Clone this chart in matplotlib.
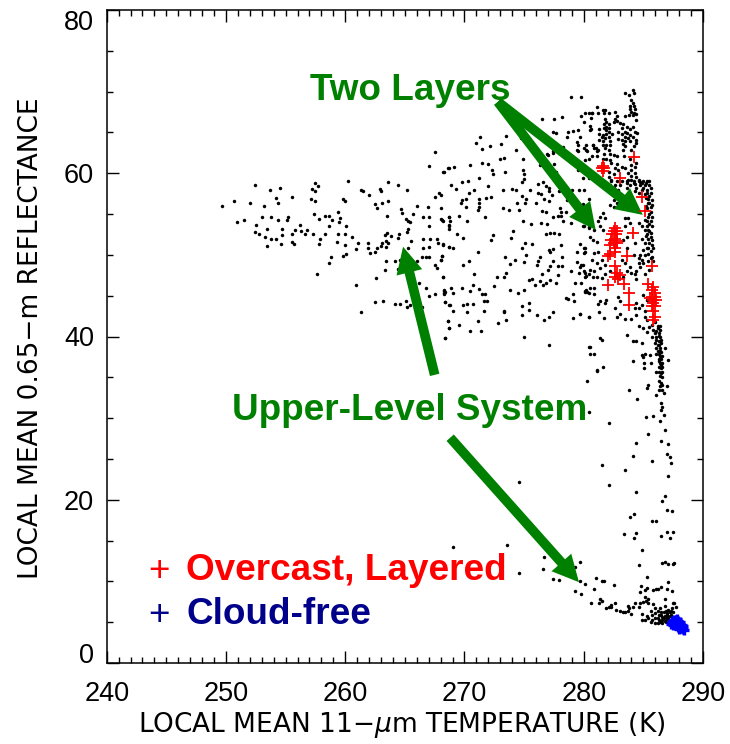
import matplotlib
matplotlib.use("Agg")
import matplotlib.pyplot as plt

# (temperature K, reflectance %)
dots_left = [(249.7,56.0),(250.7,56.6),(252.0,56.3),(252.4,58.5),(253.7,58.0),(254.5,58.2),(253.2,56.0),(254.2,57.0),(254.4,56.4),(255.5,57.1),
(250.9,54.0),(251.5,54.3),(253.0,54.7),(253.8,54.6),(254.4,54.3),(255.2,54.6),(255.1,54.3),(252.5,53.6),(253.4,53.2),(254.7,53.2),
(252.4,52.8),(252.8,52.6),(253.3,52.2),(253.8,52.0),(254.2,52.0),(254.7,52.4),(253.4,51.1),(254.6,51.3),(255.5,51.6),(255.7,51.3),
(255.5,52.6),(255.8,53.0),(256.2,53.6),(256.3,52.9),(256.6,52.5),(256.8,53.0),(257.3,52.5),(257.4,55.0),(257.8,54.4),(258.3,54.8),
(258.6,54.8),(258.9,54.3),(258.6,53.5),(258.3,52.6),(257.9,51.9),(257.8,51.3),(257.2,58.1),(257.5,58.8),(257.7,58.4),(257.5,57.8),
(257.1,56.9),(257.5,56.6),(257.6,47.6),(260.2,59.0),(259.8,56.8),(260.0,56.6),(259.4,55.3),(259.6,54.5),(259.5,54.0),(260.1,53.5),
(259.4,52.6),(260.0,52.6),(259.3,51.6),(260.0,51.2),(260.6,52.2),(261.1,51.4),(260.9,50.7),(260.1,50.1),(259.8,49.9),(258.8,49.7),
(258.6,49.0),(260.9,46.3),(261.3,43.0),(262.5,44.2),(263.2,44.4),(264.2,44.0),(264.6,44.0),(265.1,44.3),(265.2,43.6),(265.4,43.8),
(266.4,43.6),(261.3,57.9),(261.5,57.8),(262.0,57.3),(262.9,58.1),(263.0,57.8),(263.6,58.9),(264.4,58.6),(265.2,57.9),(262.5,56.2),
(262.7,55.8),(263.1,56.4),(263.6,56.6),(263.5,54.8),(264.7,55.6),(264.8,55.1),(265.1,54.4),(265.3,54.2),(265.4,54.0),(265.3,53.2),
(265.2,52.8),(265.7,55.0),(266.0,56.0),(266.9,55.9),(266.5,54.7),(267.0,54.7),(267.0,53.5),(267.5,57.1),(267.9,57.6),(268.0,57.3),
(268.0,55.7),(268.0,54.4),(268.2,54.1),(267.5,62.6),(267.0,60.9),(268.2,60.2),(268.7,60.6),(268.7,54.6),(268.7,53.5),(261.9,51.5),
(261.9,50.9),(262.1,50.2),(262.5,50.3),(262.7,50.9),(263.0,51.1),(263.1,51.5),(263.4,51.7),(263.4,51.0),(263.6,51.4),(263.3,52.4),
(263.5,52.7),(263.8,52.3),(264.5,52.5),(264.4,52.1),(265.5,51.7),(265.3,50.9),(266.5,51.9),(267.1,51.9),(267.7,51.9),(267.8,51.4),
(268.2,51.2),(268.7,51.0),(266.5,50.9),(267.0,51.0),(263.4,49.3),(264.2,49.2),(264.6,49.4),(263.3,48.1),(262.6,47.2),(264.4,48.3),
(266.0,49.2),(266.4,49.7),(266.8,49.7),(267.0,49.8),(268.1,49.9),(268.0,49.4),(267.5,48.7),(267.7,48.4),(268.2,47.3),(266.2,46.6),
(266.8,46.0),(267.0,45.0),(267.5,45.2),(268.3,45.6),(268.4,45.4),(268.3,45.2),(268.4,44.2),(268.7,43.9),(268.6,41.9),(268.7,41.0),(268.4,39.8)]

dots_middle = [(271.3,64.4),(273.5,64.6),(271.0,63.7),(271.5,63.0),(272.1,63.3),(273.1,63.6),(274.3,62.8),(274.7,64.3),(274.9,61.8),(273.0,61.8),
(273.3,61.9),(271.5,61.2),(272.0,61.1),(270.5,61.0),(269.1,60.8),(268.6,60.6),(268.3,60.2),(272.3,60.4),(272.4,59.9),(273.4,60.2),
(274.9,60.4),(275.0,59.9),(275.0,59.3),(274.8,58.9),(271.2,59.4),(270.3,59.1),(269.8,58.9),(268.9,58.6),(269.3,58.1),(272.0,58.4),
(270.4,57.6),(270.8,57.9),(273.2,58.0),(274.0,58.1),(274.3,58.0),(275.5,57.9),(276.2,58.7),(276.6,58.9),(276.8,58.4),(277.1,58.2),
(277.1,57.8),(276.2,57.6),(276.4,57.5),(274.8,57.2),(277.3,57.3),(277.9,57.8),(279.0,58.0),(279.6,57.9),(280.0,58.0),(278.6,56.7),
(280.4,56.9),(279.9,56.2),(276.7,56.8),(277.1,56.6),(276.0,56.4),(275.2,56.8),(275.1,56.3),(274.4,56.3),(272.2,57.1),(271.8,57.0),
(271.2,56.8),(271.2,56.4),(271.2,55.9),(271.1,55.5),(270.1,56.8),(269.8,56.7),(269.7,56.4),(270.1,55.9),(273.2,55.8),(273.7,55.5),
(274.6,55.5),(276.5,55.4),(276.8,55.2),(278.0,55.7),(278.1,55.3),(278.5,55.2),(277.8,54.8),(278.1,54.8),(277.4,54.6),(271.7,54.6),
(269.5,54.8),(268.7,54.6),(268.8,54.1),(270.2,54.1),(274.9,54.1),(275.6,53.8),(276.4,53.9),(276.9,53.8),(278.3,54.2),(278.9,53.9),
(279.9,53.5),(280.4,53.3),(268.7,53.6),(268.7,53.2),(268.1,54.3),(274.1,52.9),(272.4,52.4),(272.2,51.8),(273.9,52.1),(269.4,52.5),
(269.9,52.1),(276.8,52.6),(277.2,52.7),(277.5,52.7),(277.9,52.6),(275.1,51.4),(275.7,51.3),(274.8,50.9),(278.1,51.2),(279.7,51.3),
(280.0,50.8),(277.1,50.6),(277.4,50.7),(277.2,50.3),(279.4,50.4),(280.1,50.3),(268.2,51.3),(268.7,51.0),(269.0,50.8),(271.1,50.3),
(275.2,50.0),(273.4,49.8),(276.3,49.8),(278.2,49.7),(268.1,49.9),(268.0,49.4),(270.4,49.3),(269.9,48.7),(274.2,49.4),(273.8,48.9),
(275.0,49.1),(276.2,49.2),(276.1,48.7),(277.4,49.2),(277.2,48.6),(277.8,48.6),(278.2,48.6),(277.0,48.1),(279.4,49.1),(279.9,48.8),
(279.7,48.5),(278.9,48.0),(279.6,47.8),(280.1,47.8),(280.2,47.4),(277.8,47.5),(276.5,47.7),(270.8,47.7),(273.5,47.8),(273.3,47.3),
(272.7,47.3),(268.2,47.3),(275.4,46.9),(275.7,47.1),(276.3,46.8),(277.2,46.9),(276.8,46.5),(276.6,46.3),(275.9,46.3),(277.7,46.5),
(279.3,46.5),(279.8,46.6),(272.5,46.2),(270.7,46.3),(269.8,45.9),(270.5,45.6),(271.2,45.8),(268.9,45.9),(268.3,45.7),(268.3,45.3),
(269.0,45.3),(271.5,45.2),(271.7,45.2),(273.8,45.7),(275.0,45.7),(274.5,45.3),(280.1,45.6),(280.3,45.4),(279.1,45.2),(268.4,44.2),
(268.8,43.9),(269.9,43.9),(270.2,44.0),(270.7,44.0),(271.6,44.3),(271.9,44.3),(278.5,44.7),(278.7,44.6),(279.2,44.3),(275.4,44.1),
(274.8,43.7),(275.4,43.3),(269.0,43.1),(270.2,43.0),(271.6,43.1),(273.3,43.1),(273.3,43.0),(274.8,42.6),(276.1,42.6),(277.4,43.0),
(277.1,42.4),(276.7,42.0),(279.1,42.3),(279.7,42.8),(280.4,42.4),(268.6,41.9),(271.1,41.9),(273.5,42.0),(272.8,41.6),(269.5,41.4),
(268.7,41.0),(270.5,40.7),(271.4,40.7),(268.4,39.8),(275.0,40.0),(277.1,38.9),(280.4,38.7)]

dots_upper = [(278.9,69.3),(279.8,69.3),(281.1,68.1),(276.5,66.7),(277.5,66.7),(278.2,66.9),(279.8,67.0),(280.1,67.4),(280.4,67.4),(280.7,67.4),
(280.6,66.8),(280.0,66.3),(280.5,65.8),(280.6,65.4),(281.3,65.4),(277.4,65.0),(277.7,64.9),(278.7,65.1),(279.1,65.2),(279.5,65.3),
(278.6,64.4),(279.7,64.4),(279.4,63.8),(279.5,63.4),(278.3,63.2),(279.4,62.9),(280.0,63.1),(280.2,63.4),(280.8,63.4),(281.0,63.1),
(281.2,62.9),(280.3,62.7),(277.4,62.7),(276.9,62.3),(277.4,62.5),(277.0,62.2),(279.5,60.4),(279.9,59.4),(277.5,61.1),(277.7,60.2),
(276.3,61.0),(280.4,59.4),(280.2,62.9),(280.1,61.6),(280.4,61.7),(279.5,62.7),
(284.1,70.2),(283.5,69.8),(283.8,69.6),(284.2,69.8),(284.0,69.0),(284.1,68.6),(283.9,68.3),(284.2,68.2),(283.9,67.9),(284.3,67.9),
(284.0,67.5),(284.2,67.4),(284.4,67.2),(283.8,67.1),(284.1,67.1),(283.5,67.0),(284.4,66.5),(280.7,67.4),(281.2,67.4),(281.6,67.8),
(281.8,67.8),(281.7,67.4),(282.1,67.4),(281.8,66.7),(282.6,67.5),(282.8,67.0),(282.6,66.7),(282.5,66.3),(282.8,66.4),(281.9,66.3),
(281.7,66.0),(282.1,66.0),(281.7,65.6),(281.9,65.7),(282.1,65.6),(281.9,65.3),(282.1,65.1),(280.5,65.3),(281.3,64.8),(281.6,64.7),
(281.9,64.8),(281.5,64.4),(281.8,64.3),(282.1,64.4),(282.4,64.8),(281.3,64.1),(281.6,64.0),(282.2,63.9),(280.8,63.5),(280.9,63.1),
(281.1,62.7),(280.7,62.1),(281.1,62.1),(281.6,63.5),(281.9,63.5),(282.2,63.4),(281.8,63.1),(282.1,62.9),(281.7,62.4),(282.2,62.4),
(282.5,62.2),(281.6,61.8),(281.9,61.8),(282.2,61.6),(283.0,66.2),(283.3,66.0),(283.2,65.5),(283.6,65.7),(283.9,65.4),(284.1,65.7),
(284.3,65.0),(284.5,64.9),(283.5,65.1),(283.6,64.9),(283.9,64.7),(282.9,65.1),(283.2,64.8),(283.5,64.5),(283.7,64.3),(284.1,64.5),
(282.9,64.2),(283.2,64.1),(283.5,63.9),(283.9,63.9),(284.4,64.1),(283.3,63.6),(283.5,63.3),(283.3,62.9),(284.2,63.3),(284.0,62.9),
(284.4,63.7),(282.8,62.1),(283.4,62.1),(283.9,61.8),(284.4,61.3),(282.3,61.3),(282.8,61.1),(283.2,60.8),(283.5,60.6),(284.0,61.0),
(284.3,60.8),(284.0,60.4),(282.6,60.6),(282.9,60.4),(282.1,60.1),(282.5,59.9),(283.7,60.0),(284.0,59.7),(284.3,60.0),(284.4,59.6),
(284.6,59.2),(284.0,59.2),(283.7,59.2),(282.3,59.2),(282.1,59.6),(283.6,58.8),(284.2,58.8),(284.7,58.9)]

dots_band = [(282.3,59.0),(282.8,59.0),(283.2,59.0),(283.6,59.0),(284.2,59.0),(284.6,59.1),(285.0,59.0),(285.3,59.0),(285.5,59.0),(282.2,58.6),
(282.6,58.6),(283.0,58.6),(283.9,58.6),(284.3,58.7),(284.7,58.6),(285.1,58.6),(285.5,58.6),(282.5,58.2),(282.9,58.0),(283.6,58.2),
(284.4,58.2),(284.9,58.0),(285.3,58.0),(285.6,58.2),(282.3,57.6),(282.6,57.2),(284.3,57.8),(284.6,57.6),(285.3,57.6),(285.6,57.6),
(282.5,56.7),(282.2,56.1),(282.5,55.9),(282.8,56.3),(285.4,56.9),(285.7,56.7),(285.4,56.3),(285.6,55.9),(285.3,55.7),(285.6,55.3),
(285.4,54.7),(285.7,54.7),(285.1,54.3),(285.6,54.1),(285.3,53.5),(285.7,53.5),(285.1,53.1),(285.4,53.1),(285.3,52.5),(285.6,52.7),
(285.4,52.0),(285.7,51.8),(284.9,52.0),(285.1,51.4),(285.7,51.2),(285.4,50.8),(285.8,50.8),(285.0,50.6),(284.7,50.0),(285.1,50.0),
(284.6,49.6),(284.9,49.4),(284.6,49.0),(285.0,49.0),(285.7,49.7),(285.4,49.2),(285.8,49.2),(284.7,48.5),(285.5,48.2),(284.4,48.0),
(284.3,47.6),(285.1,47.6),(284.4,47.1),(281.6,55.1),(281.4,54.7),(281.8,54.5),(281.2,54.1),(281.4,53.5),(281.6,53.1),(280.4,53.4),
(280.0,53.5),(280.9,53.1),(280.8,51.8),(281.1,51.6),(280.5,52.2),(280.1,50.8),(281.2,50.4),(280.9,50.2),(280.7,49.4),(281.1,49.0),
(281.5,49.4),(281.8,48.8),(280.0,50.2),(279.8,48.8),(280.5,48.2),(280.9,48.0),(281.4,48.4),(280.0,48.0),(280.4,47.6),(281.1,47.3),
(281.8,47.6),(282.2,48.0),(283.5,54.5),(283.7,54.5),(283.9,53.9),(283.5,53.5),(284.6,53.9),(284.9,53.5),(283.6,52.2),(283.3,51.8),
(284.3,51.4),(283.6,50.8),(284.2,50.0),(283.2,49.4),(283.5,49.0),(283.9,48.5),(284.0,47.8),(283.6,48.0),(283.3,47.3),
(280.1,47.3),(280.8,47.3),(281.5,47.2),(280.2,45.7),(280.1,45.4),(280.5,45.9),(280.9,46.0),(280.4,45.3),(280.9,45.2),(281.4,44.4),
(281.9,44.5),(281.2,44.0),(281.8,44.1),(282.6,43.5),(281.3,43.0),(281.7,42.3),(282.9,44.9),(283.0,44.3),(283.0,42.7),(282.8,42.4),
(283.5,42.2),(284.0,42.2),(284.3,43.5),(284.6,43.5),(284.9,43.9),(284.4,44.1),(285.0,45.1),(285.3,44.5),(285.1,43.1),(284.4,42.6),
(285.1,42.4),(284.6,41.3),(285.3,42.0),(285.0,41.0),(285.5,41.2),(285.7,41.4),(286.0,41.8),(285.3,40.6),(285.8,40.8),(286.2,41.0),
(286.4,40.8),(286.0,40.4),(286.3,40.4),(285.7,40.0),(286.1,40.0),(286.4,39.9),(286.1,39.6),(286.3,39.4),(286.0,39.2),(286.3,39.0),
(286.45,39.2),(286.1,38.6),(286.4,38.6),(286.1,37.9),(286.3,37.9),(286.5,38.1),(286.3,37.3),(286.5,37.3),(286.4,36.7),(286.6,36.8),
(286.45,36.1),(286.6,36.3),(286.3,35.7),(286.6,35.7),(286.1,35.7),(287.1,37.1),(286.8,38.6),(285.1,37.9),(285.0,37.5),(284.85,37.75),
(285.55,37.75),(285.6,36.8),(285.05,36.8),(285.05,36.1),(284.15,39.4),(284.4,39.4),(284.85,39.2),(283.6,40.2),(281.4,39.8),(281.5,39.6),
(280.5,38.7),(280.5,37.9),(280.9,37.8),(281.6,36.3),(281.1,35.9),(284.15,37.0),(279.7,42.7),(280.4,42.4)]

dots_dense = [(286.2,41.3),(286.4,41.3),(286.1,40.7),(286.3,40.1),(286.5,39.6),(286.2,39.0),(286.4,38.2),(286.2,38.2),(286.4,37.6),(286.6,37.6),
(286.3,37.0),(286.5,36.5),(286.3,36.3),(286.5,35.5),(286.4,35.2),(286.6,35.0),(286.3,34.6),(286.5,34.3),(286.6,34.0),(286.4,33.9),
(286.6,5.3),(286.8,5.8),(287.0,5.4),(287.0,5.9),(287.1,5.5),(287.2,5.7),(287.3,5.9),(286.9,5.0),(286.6,4.9),(286.5,5.2),
(286.3,5.3),(286.6,5.6),(286.9,6.4),(287.3,6.4),(285.5,57.2),(285.2,57.0),(285.5,56.4),(285.7,56.1),(285.2,56.0),(285.5,55.0),
(285.3,54.2),(285.5,53.8),(285.5,52.9),(285.6,52.2),(285.2,52.3),(285.5,51.5),(285.3,50.9),(285.6,50.5),(285.4,50.1),(285.6,49.6),
(285.1,57.5),(285.0,58.2),(285.2,58.8),(284.9,58.8)]

dots_tail = [(281.1,35.8),(280.3,34.6),(280.4,30.7),(282.1,29.4),(283.8,33.4),(284.5,32.4),(285.4,34.0),(285.3,33.65),(286.3,33.4),(286.6,33.5),
(286.7,33.1),(286.1,32.8),(287.0,33.9),(286.45,31.9),(286.6,31.4),(286.5,31.0),(286.7,30.4),(286.4,29.7),(285.8,30.2),(285.2,30.1),
(286.8,28.6),(285.4,28.1),(284.4,26.9),(286.5,27.2),(287.1,26.8),(287.0,25.6),(287.2,25.2),(287.3,24.5),(285.7,24.8),(284.1,25.3),
(283.5,23.7),(281.5,24.2),(282.1,21.8),(287.1,22.9),(284.4,20.9),(286.8,20.5),(286.6,19.85),(287.0,18.8),(287.4,18.6),(284.2,18.25),
(283.9,17.9),(285.7,17.35),(286.1,17.35),(283.4,15.75),(284.4,15.9),(284.2,15.3),(286.5,15.6),(287.0,16.0),(287.5,16.0),(287.2,15.35),
(284.9,13.9),(276.7,13.0),(276.55,11.5),(284.6,12.0),(286.6,12.3),(286.8,12.4),(287.1,12.1),(287.5,12.1),(287.6,12.3),(279.7,12.4),
(279.3,11.8),(285.3,10.5),(277.45,10.25),(277.95,10.2),(279.7,10.1),(280.1,9.7),(281.0,10.4),(281.55,10.0),(281.7,10.0),(282.5,9.6),
(280.9,9.1),(279.3,8.8),(279.8,8.4),(280.6,7.4),(281.4,7.9),(281.5,7.6),(281.3,7.4),(284.8,9.4),(284.7,8.7),(285.1,9.0),
(285.3,9.2),(285.8,8.9),(286.1,9.1),(286.25,9.1),(286.5,9.3),(287.1,9.9),(287.0,9.1),(287.4,8.8),(282.6,7.4),(282.3,7.1),
(282.1,6.9),(281.9,6.7),(282.3,6.8),(282.7,6.5),(283.0,6.4),(283.3,6.2),(283.7,7.0),(283.8,6.7),(283.7,6.4),(283.5,6.2),
(284.0,6.0),(284.1,6.8),(284.3,7.3),(284.6,6.8),(284.7,7.4),(285.0,7.5),(285.2,7.6),(285.4,7.4),(285.1,8.1),(285.4,7.9),
(285.8,7.2),(285.6,6.4),(286.0,6.7),(286.4,6.7),(286.85,7.8),(286.8,7.0),(287.5,7.3),(287.6,7.3),(287.75,6.9),(287.4,6.7),
(287.1,6.5),(287.5,6.3),(284.9,6.0),(285.3,5.7),(284.9,5.3),(285.1,5.3),(285.4,5.5),(285.7,5.9),(286.0,6.1),(286.2,6.4),
(285.7,5.3),(286.0,5.5),(286.25,5.5),(286.5,5.9),(286.7,6.3),(286.95,6.1),(286.4,5.05),(286.2,4.9),(286.7,5.5),(286.95,5.6),
(286.8,5.2),(287.2,6.2),(286.0,4.9),(285.6,5.05),(286.3,5.9),(286.45,6.3),(269.0,14.2),(273.6,14.4),(274.6,11.0),(274.6,22.2)]

overcast = [(284.2,62.05),(281.6,60.9),(281.5,60.6),(281.7,60.6),(281.6,60.3),(283.0,59.4),(284.9,57.1),(285.1,55.4),(284.15,52.7),(282.6,53.3),
(282.5,52.9),(282.75,52.9),(282.4,52.5),(282.7,52.5),(282.6,52.0),(282.3,51.8),(282.8,51.75),(282.5,51.4),(282.75,51.4),(282.2,51.2),
(282.6,50.8),(282.6,50.4),(282.0,49.9),(283.65,49.9),(282.2,50.1),(282.6,48.65),(282.8,47.75),(283.0,47.55),(282.6,47.35),(282.9,47.0),
(282.05,46.3),(283.4,46.45),(283.8,45.3),(283.8,43.8),(285.7,48.6),(285.4,46.4),(285.8,46.1),(285.7,45.7),(286.0,45.3),(285.7,44.9),
(286.0,44.9),(285.8,44.5),(285.55,44.7),(286.1,44.5),(285.8,44.1),(285.7,43.7),(286.0,43.7),(285.8,43.1),(286.0,42.45),(285.8,42.0)]

cloud_free = [(287.3,4.8),(287.4,5.1),(287.5,4.7),(287.6,5.3),(287.7,5.0),(287.8,5.4),(287.7,4.6),(287.9,4.9),(287.9,5.2),(288.0,4.5),
(288.1,4.8),(288.1,4.3),(288.2,4.6),(288.3,4.2),(288.4,4.1),(288.3,4.5),(287.9,4.4),(288.0,4.2),(287.5,5.0),(287.7,5.3),(288.1,5.0),(287.8,4.7),(288.2,4.3)]

# arrows: (start, tip) in data units
arrows = [((272.8,68.75),(281.0,53.06)),((272.8,68.75),(284.95,54.9)),
          ((267.5,35.3),(264.85,51.0)),((268.8,27.6),(279.6,9.9))]

x_major = [240,250,260,270,280,290]
y_major = [0,20,40,60,80]
WIDTH, HEIGHT = 730, 744
GREEN, RED, NAVY = '#008000', '#ff0000', '#00008b'
ARIAL = 'Liberation Sans'

fig = plt.figure(figsize=(WIDTH/100, HEIGHT/100), dpi=100)
ax = fig.add_axes([106.7/WIDTH, 1-663/HEIGHT, (703-106.7)/WIDTH, (663-10)/HEIGHT])
ax.set_xlim(240, 290); ax.set_ylim(0, 80)

black = dots_left + dots_middle + dots_upper + dots_band + dots_dense + dots_tail
ax.plot([p[0] for p in black], [p[1] for p in black], ls='none', marker='o', ms=2.5, mew=0, color='k', zorder=2)
ax.plot([p[0] for p in cloud_free], [p[1] for p in cloud_free], ls='none', marker='+', ms=7.5, mew=2.4, color='#0000ff', zorder=4)
ax.plot([p[0] for p in overcast], [p[1] for p in overcast], ls='none', marker='+', ms=8.5, mew=1.3, color=RED, zorder=5)

for start, tip in arrows:
    ax.annotate('', xy=tip, xytext=start, zorder=3,
                arrowprops=dict(width=7, headwidth=19, headlength=19, color=GREEN, lw=0, shrink=0))

ax.set_xticks(x_major); ax.set_yticks(y_major)
ax.set_xticks(range(240, 291), minor=True); ax.set_yticks(range(0, 81, 5), minor=True)
ax.tick_params(which='major', direction='in', length=8.6, width=1.0, top=True, right=True, labelsize=19.5)
ax.tick_params(axis='x', which='major', pad=13)
ax.tick_params(axis='y', which='major', pad=9)
ax.tick_params(which='minor', direction='in', length=4, width=1.0, top=True, right=True)
for s in ax.spines.values():
    s.set_linewidth(1.1)
for lab in ax.get_xticklabels() + ax.get_yticklabels():
    lab.set_family(ARIAL)
ylabs = ax.get_yticklabels()
ylabs[0].set_va('baseline'); ylabs[-1].set_va('top')

fig.text(402/WIDTH, 1-725/HEIGHT, 'LOCAL MEAN 11\u2212$\\mu$m TEMPERATURE (K)', ha='center', va='center',
         fontsize=19, family='DejaVu Sans', math_fontfamily='dejavusans')
fig.text(31/WIDTH, 1-338/HEIGHT, 'LOCAL MEAN 0.65\u2212m REFLECTANCE', rotation=90, ha='center', va='center',
         fontsize=19, family='DejaVu Sans')

def label(px, py, s, color, weight='bold', size=26.6):
    fig.text(px/WIDTH, 1-py/HEIGHT, s, color=color, fontsize=size, family=ARIAL, weight=weight,
             ha='left', va='center', zorder=6)

label(310, 90, 'Two Layers', GREEN)
label(232, 411, 'Upper-Level System', GREEN)
label(186, 571, 'Overcast, Layered', RED)
label(186, 615, 'Cloud-free', NAVY)
label(148, 571, '+', RED, weight='normal')
label(148, 615, '+', NAVY, weight='normal')

fig.savefig('out.png', dpi=100)
